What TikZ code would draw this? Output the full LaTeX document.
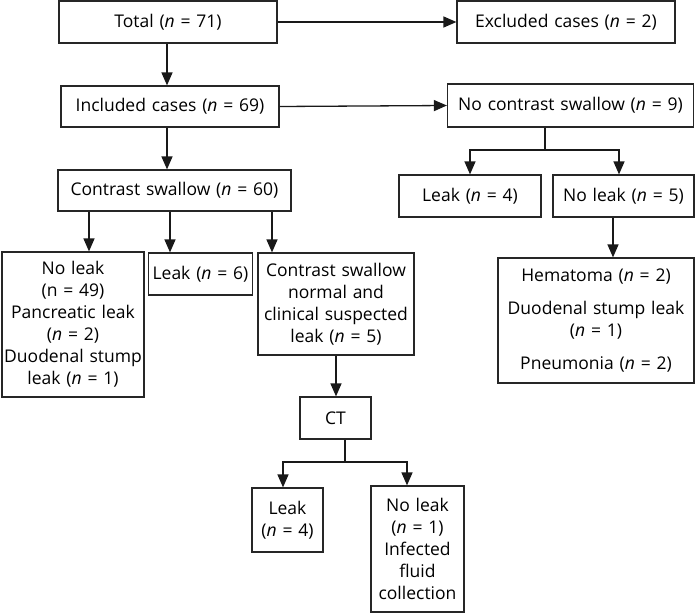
\documentclass[tikz,border=0pt]{standalone}
\usepackage{fontspec}
\setmainfont{Open Sans}
\usetikzlibrary{arrows.meta,calc}
\begin{document}
\begin{tikzpicture}[x=1pt,y=-1pt,
  box/.style={draw=black!85,line width=1.2pt,inner sep=2pt,align=center,
    font=\fontsize{17.5}{22}\selectfont},
  arr/.style={draw=black!90,line width=1.3pt,-{Triangle[length=13pt,width=11pt]}},
  ln/.style={draw=black!90,line width=1.3pt}]
\useasboundingbox (0,0) rectangle (695,613);
\newcommand{\bx}[7]{\node[box,minimum width=#4pt,minimum height=#5pt,text width=#6pt] (#1) at (#2,#3) {#7};}
\bx{total}{168}{22}{218}{42}{214}{Total (\textit{n} = 71)}
\bx{excl}{566}{22}{218}{42}{214}{Excluded cases (\textit{n} = 2)}
\bx{incl}{170}{106.5}{218}{41}{214}{Included cases (\textit{n} = 69)}
\bx{ncs}{570.5}{105.5}{246}{43}{242}{No contrast swallow (\textit{n} = 9)}
\bx{cs}{174.5}{190.5}{233}{41}{229}{Contrast swallow (\textit{n} = 60)}
\bx{leakA}{470}{196}{142}{42}{138}{Leak (\textit{n} = 4)}
\bx{noleakA}{623.5}{196}{141}{42}{137}{No leak (\textit{n} = 5)}
\bx{hema}{596}{320.5}{196}{125}{192}{Hematoma (\textit{n} = 2)\\[11pt]Duodenal stump leak\\(\textit{n} = 1)\\[11pt]Pneumonia (\textit{n} = 2)}
\bx{noleakB}{73}{324.5}{142}{145}{138}{No leak\\(n = 49)\\Pancreatic leak\\(\textit{n} = 2)\\Duodenal stump\\leak (\textit{n} = 1)}
\bx{leakB}{200.5}{274}{103}{42}{100}{Leak (\textit{n} = 6)}
\bx{csn}{336}{304}{156}{102}{152}{Contrast swallow\\normal and\\clinical suspected\\leak (\textit{n} = 5)}
\bx{ct}{335.5}{418}{71}{42}{64}{CT}
\bx{leakC}{287.5}{520}{71}{64}{66}{Leak\\(\textit{n} = 4)}
\bx{noleakC}{417.5}{549}{93}{126}{89}{No leak\\(\textit{n} = 1)\\Infected\\fluid\\collection}
% connectors
\draw[arr] (total.east) -- (excl.west);
\draw[arr] (incl.east) -- (ncs.west);
\draw[arr] (total.south -| 167,0) -- (incl.north -| 167,0);
\draw[arr] (incl.south -| 167,0) -- (cs.north -| 167,0);
\draw[arr] (cs.south -| 89,0) -- (noleakB.north -| 89,0);
\draw[arr] (cs.south -| 170,0) -- (leakB.north -| 170,0);
\draw[arr] (cs.south -| 272,0) -- (csn.north -| 272,0);
\coordinate (j1) at (545,150);
\draw[ln] (ncs.south -| j1) -- (j1);
\draw[arr] (j1) -| (leakA.north);
\draw[arr] (j1) -| (noleakA.north -| 619,0);
\draw[arr] (noleakA.south -| 613,0) -- (hema.north -| 613,0);
\draw[arr] (csn.south -| 336,0) -- (ct.north -| 336,0);
\coordinate (j2) at (345,462);
\draw[ln] (ct.south -| j2) -- (j2);
\draw[arr] (j2) -| (leakC.north -| 283,0);
\draw[arr] (j2) -| (noleakC.north -| 407,0);
\end{tikzpicture}
\end{document}
